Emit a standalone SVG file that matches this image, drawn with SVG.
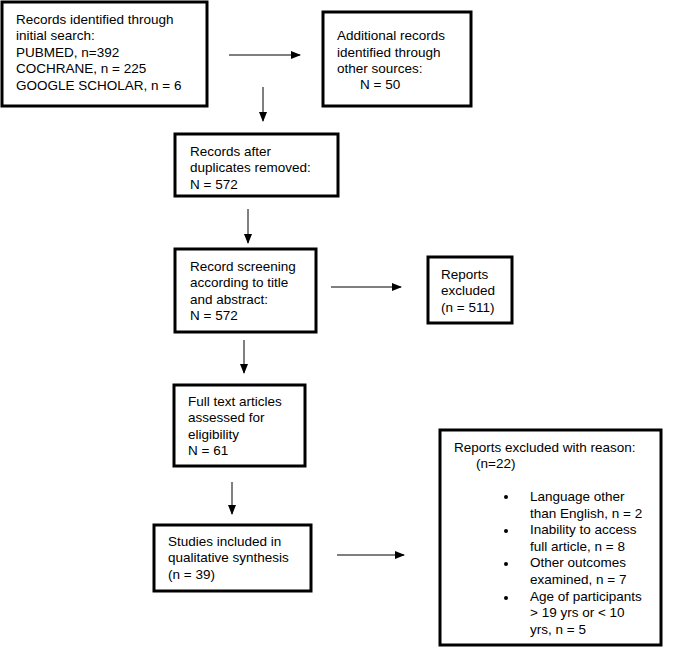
<svg xmlns="http://www.w3.org/2000/svg" width="685" height="648" viewBox="0 0 685 648">
<style>
rect{fill:#fff;stroke:#000;stroke-width:3}
text{font-family:"Liberation Sans",Arial,sans-serif;font-size:13.5px;fill:#000}
line{stroke:#000;stroke-width:1}
</style>
<defs><marker id="a" markerWidth="10" markerHeight="8" refX="9" refY="4" orient="auto" markerUnits="userSpaceOnUse"><path d="M0,0L10,4L0,8z"/></marker></defs>
<rect width="685" height="648" style="stroke:none"/>
<g id="n1"><rect x="2" y="2" width="205" height="104"/><text x="16" y="24">Records identified through</text><text x="16" y="40">initial search:</text><text x="16" y="57"> PUBMED, n=392</text><text x="16" y="73">COCHRANE, n = 225</text><text x="16" y="90">GOOGLE SCHOLAR, n = 6</text></g>
<g id="n2"><rect x="323" y="12" width="148" height="94"/><text x="337" y="40">Additional records</text><text x="337" y="57">identified through</text><text x="337" y="73">other sources:</text><text x="360" y="89">N = 50</text></g>
<g id="n3"><rect x="175" y="134" width="163" height="62"/><text x="190" y="156">Records after</text><text x="190" y="172">duplicates removed:</text><text x="190" y="189">N = 572</text></g>
<g id="n4"><rect x="175" y="249" width="141" height="83"/><text x="190" y="271">Record screening</text><text x="190" y="287">according to title</text><text x="190" y="304">and abstract:</text><text x="190" y="320"> N = 572</text></g>
<g id="n5"><rect x="428" y="257" width="84" height="66"/><text x="441" y="279">Reports</text><text x="441" y="295">excluded</text><text x="441" y="312">(n = 511)</text></g>
<g id="n6"><rect x="174" y="385" width="131" height="81"/><text x="188" y="406">Full text articles</text><text x="188" y="422">assessed for</text><text x="188" y="439">eligibility</text><text x="188" y="455">N = 61</text></g>
<g id="n7"><rect x="154" y="525" width="157" height="66"/><text x="168" y="546">Studies included in</text><text x="168" y="562">qualitative synthesis</text><text x="168" y="579">(n = 39)</text></g>
<g id="n8"><rect x="440" y="430" width="221" height="215"/><text x="454" y="452">Reports excluded with reason:</text><text x="476" y="468">(n=22)</text>
<g><circle cx="506" cy="497" r="2"/><circle cx="506" cy="531" r="2"/><circle cx="506" cy="564" r="2"/><circle cx="506" cy="598" r="2"/></g>
<text x="530" y="501">Language other</text><text x="530" y="518">than English, n = 2</text><text x="530" y="534">Inability to access</text><text x="530" y="551">full article, n = 8</text><text x="530" y="567">Other outcomes</text><text x="530" y="584">examined, n = 7</text><text x="530" y="601">Age of participants</text><text x="530" y="617">&gt; 19 yrs or &lt; 10</text><text x="530" y="634">yrs, n = 5</text></g>
<g id="connectors" marker-end="url(#a)">
<line x1="229" y1="55" x2="300" y2="55" marker-end="url(#a)"/>
<line x1="263" y1="87" x2="263" y2="121" marker-end="url(#a)"/>
<line x1="248" y1="209" x2="248" y2="243" marker-end="url(#a)"/>
<line x1="331" y1="287" x2="401" y2="287" marker-end="url(#a)"/>
<line x1="244" y1="340" x2="244" y2="373" marker-end="url(#a)"/>
<line x1="232" y1="482" x2="232" y2="514" marker-end="url(#a)"/>
<line x1="337" y1="555" x2="404" y2="555" marker-end="url(#a)"/>
</g>
</svg>
